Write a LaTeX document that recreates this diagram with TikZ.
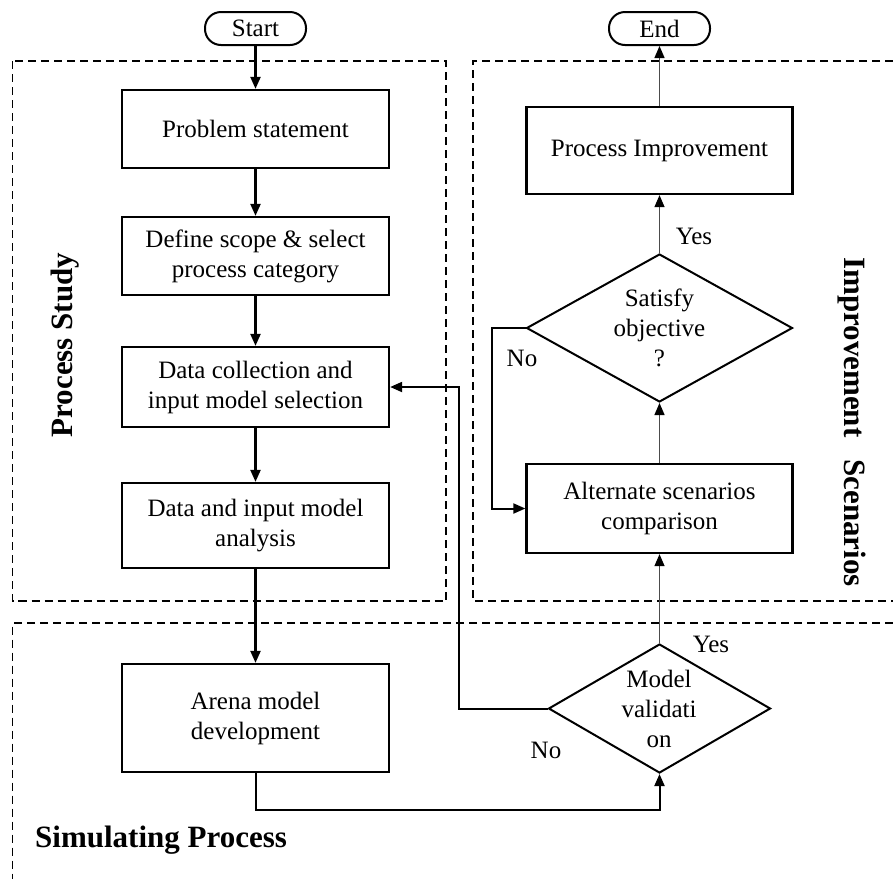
\documentclass[tikz,border=0pt]{standalone}
\usepackage{fontspec}
\setmainfont{Liberation Serif}
\usetikzlibrary{shapes.geometric,arrows.meta}
\begin{document}
\begin{tikzpicture}[x=1pt,y=-1pt,
  every node/.style={font=\fontsize{25}{30}\selectfont},
  box/.style={draw,line width=2.3pt,minimum width=267pt,inner sep=0pt,align=center},
  rbox/.style={draw,line width=2.3pt,minimum width=266pt,inner sep=0pt,align=center},
  term/.style={draw,line width=2pt,rounded corners=16pt,minimum width=101pt,minimum height=33pt,inner sep=0pt},
  dec/.style={draw,diamond,line width=2pt,inner sep=0pt},
  region/.style={line width=1.7pt,dash pattern=on 8pt off 5pt},
  tarrow/.style={line width=2.2pt,-{Triangle[length=12pt,width=10pt]}},
  marrow/.style={line width=2pt,-{Triangle[length=12pt,width=10pt]}},
  farrow/.style={line width=1.3pt,draw=black!70,-{Triangle[length=12pt,width=10pt,color=black]}},
  title/.style={font=\fontsize{31}{36}\selectfont\bfseries,inner sep=0pt},
  lbl/.style={inner sep=0pt}
]
\useasboundingbox (0,0) rectangle (893,879);
% regions
\draw[region] (12.5,61) rectangle (446,601);
\draw[region] (893,61) -- (473,61) -- (473,601) -- (893,601);
\draw[region] (893,623) -- (12.5,623) -- (12.5,879);
% terminators
\node[term] (start) at (255.5,28.5) {Start};
\node[term] (end) at (659.5,28.5) {End};
% left column
\node[box,minimum height=78pt] (prob) at (255.5,129) {Problem statement};
\node[box,minimum height=78pt] (def) at (255.5,256) {Define scope \& select\\process category};
\node[box,minimum height=80pt] (coll) at (255.5,387) {Data collection and\\input model selection};
\node[box,minimum height=85pt] (din) at (255.5,525.5) {Data and input model\\analysis};
\node[box,minimum height=108pt] (arena) at (255.5,718) {Arena model\\development};
% right column
\node[rbox,minimum height=87pt] (imp) at (659.5,150.5) {Process Improvement};
\node[dec,minimum width=266pt,minimum height=148pt] (sat) at (659.5,328) {};
\node[align=center,lbl] (satT) at (sat.center) {Satisfy\\objective\\?};
\node[rbox,minimum height=89pt] (alt) at (659.5,508.5) {Alternate scenarios\\comparison};
\node[dec,minimum width=222pt,minimum height=129pt] (val) at (659.5,708.5) {};
\node[align=center,lbl] (valT) at (659,709) {Model\\validati\\on};
% titles
\node[title,rotate=90] (ps) at (65,345) {Process Study};
\node[title,rotate=-90] (is) at (852,422) {Improvement\hspace{14pt} Scenarios};
\node[title,anchor=west] (sp) at (35,840) {Simulating Process};
% labels
\node[lbl] (y1) at (694,236) {Yes};
\node[lbl] (n1) at (522,358) {No};
\node[lbl] (y2) at (711,644) {Yes};
\node[lbl] (n2) at (546,750) {No};
% coordinates
\coordinate (vl) at (459,708.5);
\coordinate (sl) at (492,328);
% connectors
\draw[tarrow] (start) -- (prob);
\draw[tarrow] (prob) -- (def);
\draw[tarrow] (def) -- (coll);
\draw[tarrow] (coll) -- (din);
\draw[tarrow] (din) -- (arena);
\draw[marrow] (arena.south) -- ++(0,37) -| (val.south);
\draw[marrow] (val.west) -- (vl) |- (coll.east);
\draw[marrow] (sat.west) -- (sl) |- (alt.west);
\draw[farrow] (val.north) -- (alt.south);
\draw[farrow] (alt.north) -- (sat.south);
\draw[farrow] (sat.north) -- (imp.south);
\draw[farrow] (imp.north) -- (end.south);
\end{tikzpicture}
\end{document}
